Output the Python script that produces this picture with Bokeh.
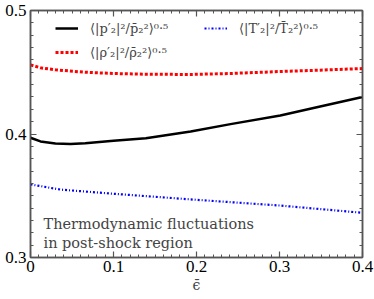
from bokeh.plotting import figure
from bokeh.models import (Range1d, SingleIntervalTicker, LinearAxis, Legend, LegendItem, Label)
from bokeh.embed import file_html
from bokeh.resources import INLINE

# data
eps = [0.0, 0.012, 0.03, 0.048, 0.066, 0.1, 0.139, 0.193, 0.241, 0.301, 0.349, 0.4]
p_fluc = [0.397, 0.394, 0.3923, 0.392, 0.3925, 0.3945, 0.3966, 0.402, 0.408, 0.415, 0.4223, 0.430]
eps_r = [0.0, 0.012, 0.03, 0.066, 0.1, 0.139, 0.193, 0.241, 0.301, 0.349, 0.4]
rho_fluc = [0.456, 0.4536, 0.452, 0.450, 0.449, 0.4484, 0.4482, 0.449, 0.4506, 0.4517, 0.453]
eps_t = [0.0, 0.036, 0.1, 0.2, 0.3, 0.4]
t_fluc = [0.3592, 0.355, 0.3516, 0.3467, 0.3421, 0.3362]

FONT = "DejaVu Serif"
TICKFONT = "Liberation Serif"
AX = "#555555"

p = figure(width=374, height=299, output_backend="svg", toolbar_location=None,
           x_range=Range1d(0, 0.4), y_range=Range1d(0.3, 0.5),
           min_border_left=30, min_border_right=12, min_border_top=10, min_border_bottom=42,
           x_axis_label="\u03f5\u0304")
p.grid.visible = False
p.outline_line_color = AX
p.outline_line_width = 1.5

def style(ax, labels=True):
    ax.ticker = SingleIntervalTicker(interval=0.1, num_minor_ticks=10)
    ax.major_tick_in = 6
    ax.major_tick_out = 0
    ax.minor_tick_in = 3
    ax.minor_tick_out = 0
    ax.axis_line_color = AX
    ax.axis_line_width = 1.5
    ax.major_tick_line_color = AX
    ax.minor_tick_line_color = AX
    ax.major_tick_line_width = 1.2
    ax.minor_tick_line_width = 1
    ax.major_label_text_font = TICKFONT
    ax.major_label_text_font_size = "17px"
    ax.major_label_text_color = "black" if labels else None
    ax.major_label_standoff = 3

style(p.xaxis[0])
style(p.yaxis[0])
p.yaxis[0].major_label_standoff = 4
p.xaxis[0].axis_label_text_font = FONT
p.xaxis[0].axis_label_text_font_style = "normal"
p.xaxis[0].axis_label_text_font_size = "14px"
p.xaxis[0].axis_label_standoff = 2

top = LinearAxis()
right = LinearAxis()
style(top, False)
style(right, False)
top.major_label_text_font_size = "0px"
right.major_label_text_font_size = "0px"
top.major_label_standoff = 0
right.major_label_standoff = 0
p.add_layout(top, "above")
p.add_layout(right, "right")

r_p = p.line(eps, p_fluc, line_color="black", line_width=2.5)
r_rho = p.line(eps_r, rho_fluc, line_color="red", line_width=3, line_dash="3 2")
r_t = p.line(eps_t, t_fluc, line_color="blue", line_width=2.2, line_dash="2 2 1 2")

legend = Legend(items=[
    LegendItem(label="\u27e8|p\u2032\u2082|\u00b2/p\u0304\u2082\u00b2\u27e9\u2070\u00b7\u2075", renderers=[r_p]),
    LegendItem(label="\u27e8|\u03c1\u2032\u2082|\u00b2/\u03c1\u0304\u2082\u00b2\u27e9\u2070\u00b7\u2075", renderers=[r_rho]),
    LegendItem(label="\u27e8|T\u2032\u2082|\u00b2/T\u0304\u2082\u00b2\u27e9\u2070\u00b7\u2075", renderers=[r_t]),
], ncols=2, location=(25, 197))
legend.background_fill_alpha = 0
legend.border_line_color = None
legend.label_text_font = FONT
legend.label_text_font_size = "13px"
legend.glyph_width = 23
legend.glyph_height = 16
legend.label_height = 16
legend.label_width = 106
legend.label_standoff = 12
legend.spacing = 8
legend.padding = 0
legend.margin = 0
p.add_layout(legend)

p.add_layout(Label(x=13, y=34, x_units="screen", y_units="screen",
                   text="Thermodynamic fluctuations", text_font=FONT, text_font_size="14.5px",
                   text_baseline="middle"))
p.add_layout(Label(x=13, y=15, x_units="screen", y_units="screen",
                   text="in post-shock region", text_font=FONT, text_font_size="14.5px",
                   text_baseline="middle"))

open("out.html", "w").write(file_html(p, INLINE))
